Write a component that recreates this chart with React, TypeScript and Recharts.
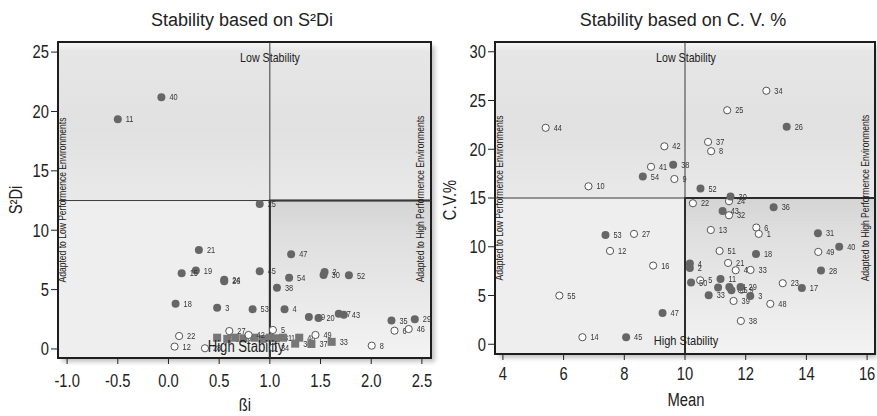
import React from 'react';
import {
  ScatterChart,
  Scatter,
  XAxis,
  YAxis,
  ReferenceArea,
  ReferenceLine,
} from 'recharts';

type Pt = { x: number; y: number; id: string };

// S²Di vs ßi — filled = unstable, open = stable, square = below the cut
const s2diFilled: Pt[] = [
  { x: -0.07, y: 21.2, id: '40' },
  { x: -0.5, y: 19.35, id: '11' },
  { x: 0.9, y: 12.2, id: '25' },
  { x: 0.3, y: 8.33, id: '21' },
  { x: 1.21, y: 7.97, id: '47' },
  { x: 0.27, y: 6.6, id: '19' },
  { x: 0.13, y: 6.37, id: '15' },
  { x: 0.9, y: 6.54, id: '45' },
  { x: 1.54, y: 6.48, id: '2' },
  { x: 1.53, y: 6.23, id: '30' },
  { x: 1.78, y: 6.2, id: '52' },
  { x: 1.19, y: 6.0, id: '54' },
  { x: 0.55, y: 5.82, id: '24' },
  { x: 0.55, y: 5.7, id: '26' },
  { x: 1.07, y: 5.16, id: '38' },
  { x: 0.07, y: 3.81, id: '18' },
  { x: 0.48, y: 3.48, id: '3' },
  { x: 0.83, y: 3.34, id: '53' },
  { x: 1.145, y: 3.34, id: '4' },
  { x: 1.68, y: 2.97, id: '7' },
  { x: 1.73, y: 2.89, id: '43' },
  { x: 1.385, y: 2.69, id: '39' },
  { x: 1.48, y: 2.6, id: '20' },
  { x: 2.2, y: 2.39, id: '35' },
  { x: 2.43, y: 2.5, id: '29' },
];

const s2diOpen: Pt[] = [
  { x: 0.6, y: 1.51, id: '27' },
  { x: 1.03, y: 1.6, id: '5' },
  { x: 0.105, y: 1.09, id: '22' },
  { x: 0.06, y: 0.2, id: '12' },
  { x: 0.36, y: 0.06, id: '28' },
  { x: 0.79, y: 1.18, id: '42' },
  { x: 1.45, y: 1.18, id: '49' },
  { x: 2.23, y: 1.54, id: '6' },
  { x: 2.37, y: 1.68, id: '46' },
  { x: 2.005, y: 0.28, id: '8' },
  { x: 1.03, y: 0.11, id: '34' },
];

const s2diSquare: Pt[] = [
  { x: 0.48, y: 0.95, id: '16' },
  { x: 0.58, y: 0.85, id: '9' },
  { x: 0.66, y: 0.95, id: '10' },
  { x: 0.74, y: 0.9, id: '1' },
  { x: 0.85, y: 0.95, id: '14' },
  { x: 0.93, y: 0.85, id: '17' },
  { x: 1.0, y: 0.95, id: '41' },
  { x: 1.06, y: 0.9, id: '31' },
  { x: 1.13, y: 0.95, id: '13' },
  { x: 1.29, y: 0.95, id: '48' },
  { x: 1.25, y: 0.45, id: '36' },
  { x: 1.41, y: 0.42, id: '37' },
  { x: 1.61, y: 0.6, id: '33' },
];

// C.V.% vs Mean
const cvFilled: Pt[] = [
  { x: 13.35, y: 22.3, id: '26' },
  { x: 9.61, y: 18.4, id: '38' },
  { x: 8.61, y: 17.2, id: '54' },
  { x: 10.51, y: 15.97, id: '52' },
  { x: 11.5, y: 15.15, id: '30' },
  { x: 12.92, y: 14.05, id: '36' },
  { x: 11.24, y: 13.67, id: '43' },
  { x: 14.38, y: 11.38, id: '31' },
  { x: 7.38, y: 11.2, id: '53' },
  { x: 15.08, y: 10.0, id: '40' },
  { x: 12.34, y: 9.26, id: '18' },
  { x: 10.16, y: 8.28, id: '4' },
  { x: 10.16, y: 7.83, id: '2' },
  { x: 14.48, y: 7.56, id: '28' },
  { x: 10.2, y: 6.33, id: '50' },
  { x: 11.17, y: 6.7, id: '11' },
  { x: 13.85, y: 5.77, id: '17' },
  { x: 11.09, y: 5.81, id: '7' },
  { x: 11.46, y: 5.88, id: '24' },
  { x: 11.53, y: 5.54, id: '35' },
  { x: 11.83, y: 5.88, id: '29' },
  { x: 10.78, y: 5.03, id: '33' },
  { x: 12.15, y: 4.96, id: '3' },
  { x: 9.26, y: 3.21, id: '47' },
  { x: 8.06, y: 0.72, id: '45' },
];

const cvOpen: Pt[] = [
  { x: 12.68, y: 26.0, id: '34' },
  { x: 11.39, y: 24.0, id: '25' },
  { x: 5.41, y: 22.2, id: '44' },
  { x: 9.32, y: 20.3, id: '42' },
  { x: 10.76, y: 20.75, id: '37' },
  { x: 10.86, y: 19.8, id: '8' },
  { x: 8.88, y: 18.2, id: '41' },
  { x: 9.65, y: 16.95, id: '9' },
  { x: 6.82, y: 16.2, id: '10' },
  { x: 11.45, y: 14.67, id: '24' },
  { x: 10.26, y: 14.46, id: '22' },
  { x: 11.45, y: 13.23, id: '32' },
  { x: 12.35, y: 11.97, id: '6' },
  { x: 12.43, y: 11.32, id: '1' },
  { x: 10.85, y: 11.72, id: '13' },
  { x: 8.32, y: 11.32, id: '27' },
  { x: 7.53, y: 9.57, id: '12' },
  { x: 11.14, y: 9.57, id: '51' },
  { x: 14.39, y: 9.47, id: '49' },
  { x: 8.95, y: 8.07, id: '16' },
  { x: 11.42, y: 8.34, id: '21' },
  { x: 11.67, y: 7.59, id: '46' },
  { x: 12.16, y: 7.62, id: '33' },
  { x: 10.5, y: 6.56, id: '5' },
  { x: 13.22, y: 6.26, id: '23' },
  { x: 11.86, y: 5.6, id: '9' },
  { x: 11.6, y: 4.44, id: '39' },
  { x: 12.81, y: 4.14, id: '48' },
  { x: 5.86, y: 4.99, id: '55' },
  { x: 11.84, y: 2.39, id: '38' },
  { x: 6.62, y: 0.72, id: '14' },
];

const s2diXTicks = [-1, -0.5, 0, 0.5, 1, 1.5, 2, 2.5];
const s2diYTicks = [0, 5, 10, 15, 20, 25];
const cvXTicks = [4, 6, 8, 10, 12, 14, 16];
const cvYTicks = [0, 5, 10, 15, 20, 25, 30];

const SANS = '"Liberation Sans", Arial, sans-serif';
const NARROW_X = 0.82; // no Arial Narrow installed: squeeze Liberation Sans instead
const INK = '#222';
const DOT = '#666';

// narrow text in svg
function NText({ x, y, size, anchor = 'start', dy = '0', fill = INK, opacity = 1, children }: any) {
  return (
    <g transform={`translate(${x},${y})`} opacity={opacity}>
      <text
        transform={`scale(${NARROW_X},1)`}
        textAnchor={anchor}
        dy={dy}
        fontFamily={SANS}
        fontSize={size}
        fill={fill}
      >
        {children}
      </text>
    </g>
  );
}

const xTick = (fmt: (v: number) => string) => (p: any) => (
  <NText x={p.x} y={p.y} size={18} anchor="middle" dy="0.71em">
    {fmt(p.payload.value)}
  </NText>
);
const yTick = (p: any) => (
  <NText x={p.x} y={p.y} size={18} anchor="end" dy="0.355em">
    {p.payload.value}
  </NText>
);

function marker(kind: 'filled' | 'open' | 'square') {
  return (p: any) => {
    const { cx, cy, payload } = p;
    if (cx == null || cy == null) return <g />;
    let m;
    if (kind === 'square') m = <rect x={cx - 4} y={cy - 4} width={8} height={8} fill="#777" />;
    else if (kind === 'open') m = <circle cx={cx} cy={cy} r={3.6} fill="#fff" stroke="#555" strokeWidth={1} />;
    else m = <circle cx={cx} cy={cy} r={4} fill={DOT} />;
    return (
      <g>
        {m}
        <NText x={cx + 8} y={cy} size={9} dy="0.35em" fill="#333" opacity={0.99}>
          {payload.id}
        </NText>
      </g>
    );
  };
}

function Txt({
  x,
  y,
  size,
  rotate,
  narrow = true,
  children,
}: {
  x: number;
  y: number;
  size: number;
  rotate?: boolean;
  narrow?: boolean;
  children: React.ReactNode;
}) {
  return (
    <div
      style={{
        position: 'absolute',
        left: x,
        top: y,
        transform: `translate(-50%, -50%)${rotate ? ' rotate(-90deg)' : ''}${narrow ? ` scaleX(${NARROW_X})` : ''}`,
        fontFamily: SANS,
        fontSize: size,
        lineHeight: 1,
        whiteSpace: 'nowrap',
        color: INK,
        pointerEvents: 'none',
      }}
    >
      {children}
    </div>
  );
}

function gradients(id: string) {
  return (
    <defs>
      <linearGradient id={`${id}-up`} x1="0" y1="0" x2="0" y2="1">
        <stop offset="0%" stopColor="#f7f7f7" />
        <stop offset="6%" stopColor="#e6e6e6" />
        <stop offset="55%" stopColor="#e1e1e1" />
        <stop offset="100%" stopColor="#e9e9e9" />
      </linearGradient>
      <linearGradient id={`${id}-lr`} x1="0" y1="0" x2="0" y2="1">
        <stop offset="0%" stopColor="#d4d4d4" />
        <stop offset="20%" stopColor="#dedede" />
        <stop offset="100%" stopColor="#f3f3f3" />
      </linearGradient>
    </defs>
  );
}

export default function App() {
  return (
    <div style={{ position: 'absolute', left: 0, top: 0, width: 877, height: 416, background: '#fff', overflow: 'hidden' }}>
      {/* drop shadows behind the plot frames */}
      <div style={{ position: 'absolute', left: 62, top: 46, width: 373, height: 316, background: '#c4c4c4', filter: 'blur(2px)' }} />
      <div style={{ position: 'absolute', left: 499, top: 46, width: 378, height: 312, background: '#c4c4c4', filter: 'blur(2px)' }} />

      <div style={{ position: 'absolute', left: 0, top: 0 }}>
        <ScatterChart width={440} height={416} margin={{ top: 42, right: 9, bottom: 0, left: 0 }}>
          {gradients('sd')}
          <XAxis
            type="number"
            dataKey="x"
            domain={[-1.09, 2.59]}
            ticks={s2diXTicks}
            height={58}
            axisLine={false}
            tickLine={{ stroke: INK }}
            tickSize={6}
            tickMargin={10}
            tick={xTick((v) => v.toFixed(1))}
            allowDataOverflow
          />
          <YAxis
            type="number"
            dataKey="y"
            domain={[-0.76, 25.85]}
            ticks={s2diYTicks}
            width={58}
            axisLine={false}
            tickLine={{ stroke: INK }}
            tickSize={7}
            tickMargin={2}
            tick={yTick}
            allowDataOverflow
          />
          <ReferenceArea x1={-1.09} x2={2.59} y1={12.5} y2={25.85} fill="url(#sd-up)" fillOpacity={1} stroke="none" />
          <ReferenceArea x1={-1.09} x2={1} y1={-0.76} y2={12.5} fill="#eeeeee" fillOpacity={1} stroke="none" />
          <ReferenceArea x1={1} x2={2.59} y1={-0.76} y2={12.5} fill="url(#sd-lr)" fillOpacity={1} stroke="#1e1e1e" strokeWidth={2} />
          <ReferenceLine x={1} stroke="#3a3a3a" strokeWidth={1} />
          <ReferenceLine y={12.5} stroke="#3a3a3a" strokeWidth={1} />
          <ReferenceArea x1={-1.09} x2={2.59} y1={-0.76} y2={25.85} fill="none" stroke="#1e1e1e" strokeWidth={2} />
          <Scatter data={s2diSquare} shape={marker('square')} isAnimationActive={false} />
          <Scatter data={s2diOpen} shape={marker('open')} isAnimationActive={false} />
          <Scatter data={s2diFilled} shape={marker('filled')} isAnimationActive={false} />
        </ScatterChart>
      </div>

      <div style={{ position: 'absolute', left: 440, top: 0 }}>
        <ScatterChart width={437} height={416} margin={{ top: 42, right: 2, bottom: 0, left: 0 }}>
          {gradients('cv')}
          <XAxis
            type="number"
            dataKey="x"
            domain={[3.74, 16.26]}
            ticks={cvXTicks}
            height={62}
            axisLine={false}
            tickLine={{ stroke: INK }}
            tickSize={6}
            tickMargin={7}
            tick={xTick((v) => String(v))}
            allowDataOverflow
          />
          <YAxis
            type="number"
            dataKey="y"
            domain={[-1, 31]}
            ticks={cvYTicks}
            width={55}
            axisLine={false}
            tickLine={{ stroke: INK }}
            tickSize={7}
            tickMargin={2}
            tick={yTick}
            allowDataOverflow
          />
          <ReferenceArea x1={3.74} x2={16.26} y1={15} y2={31} fill="url(#cv-up)" fillOpacity={1} stroke="none" />
          <ReferenceArea x1={3.74} x2={10} y1={-1} y2={15} fill="#eeeeee" fillOpacity={1} stroke="none" />
          <ReferenceArea x1={10} x2={16.26} y1={-1} y2={15} fill="url(#cv-lr)" fillOpacity={1} stroke="#1e1e1e" strokeWidth={2} />
          <ReferenceLine x={10} stroke="#3a3a3a" strokeWidth={1} />
          <ReferenceLine y={15} stroke="#3a3a3a" strokeWidth={1} />
          <ReferenceArea x1={3.74} x2={16.26} y1={-1} y2={31} fill="none" stroke="#1e1e1e" strokeWidth={2} />
          <Scatter data={cvOpen} shape={marker('open')} isAnimationActive={false} />
          <Scatter data={cvFilled} shape={marker('filled')} isAnimationActive={false} />
        </ScatterChart>
      </div>

      {/* titles and annotations */}
      <Txt x={242} y={20} size={18} narrow={false}>Stability based on S²Di</Txt>
      <Txt x={683} y={20} size={18} narrow={false}>Stability based on C. V. %</Txt>

      <Txt x={16} y={200} size={18} rotate>S²Di</Txt>
      <Txt x={450} y={200} size={18} rotate>C.V.%</Txt>
      <Txt x={245} y={405} size={18}>ßi</Txt>
      <Txt x={686} y={400} size={18}>Mean</Txt>

      <Txt x={270} y={57} size={13}>Low Stability</Txt>
      <Txt x={686} y={57} size={13}>Low Stability</Txt>
      <Txt x={246} y={347} size={16}>High Stability</Txt>
      <Txt x={686} y={341} size={13.5}>High Stability</Txt>

      <Txt x={63} y={200} size={10.4} rotate>Adapted to Low Performence Environments</Txt>
      <Txt x={421} y={199} size={10.4} rotate>Adapted to High Performence Environments</Txt>
      <Txt x={500} y={198} size={10.4} rotate>Adapted to Low Performence Environments</Txt>
      <Txt x={866} y={198} size={10.4} rotate>Adapted to High Performence Environments</Txt>
    </div>
  );
}
